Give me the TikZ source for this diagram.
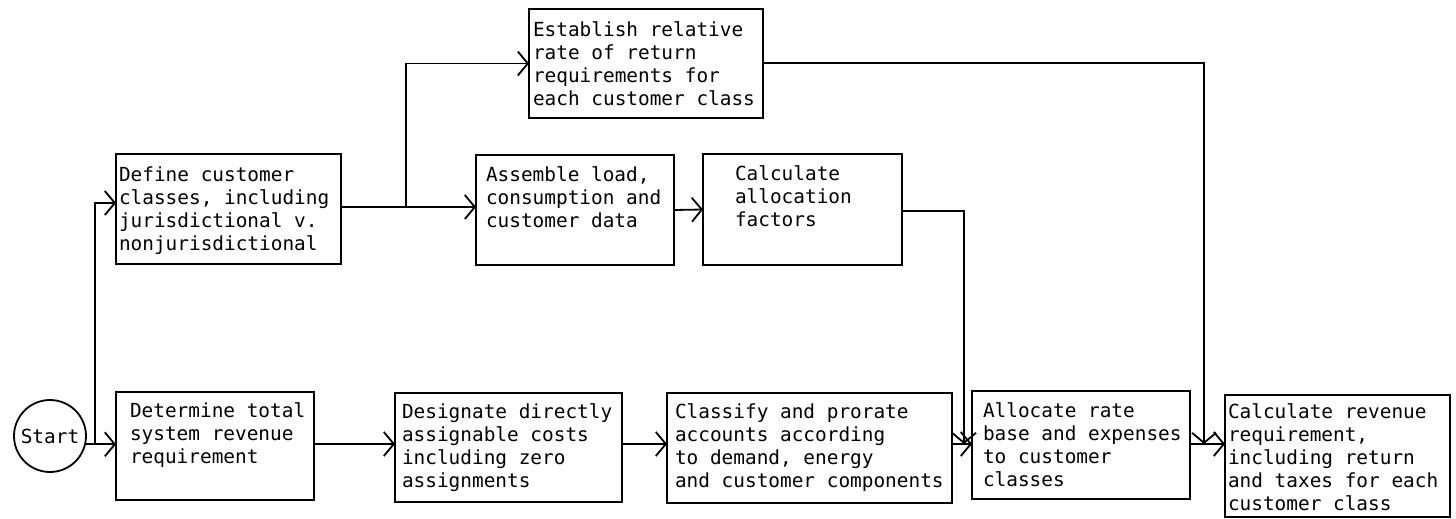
\documentclass[tikz,border=0pt]{standalone}
\usepackage{fontspec}
\newfontfamily\typ{DejaVu Sans Mono}
\usetikzlibrary{arrows.meta}

% #1 box width, #2 box height, #3 left pad, #4 top pad (all in px), #5 text
\newcommand\steptext[5]{%
  \parbox[t][\dimexpr#2pt/2\relax][t]{\dimexpr#1pt/2\relax}{%
    \typ\fontsize{9.7pt}{11.5pt}\selectfont
    \raggedright\leftskip=\dimexpr#3pt/2\relax
    \vspace*{\dimexpr#4pt/2\relax}#5}}

\begin{document}
\begin{tikzpicture}[x=0.5pt,y=-0.5pt,line width=0.9pt,
  stepbox/.style={draw,rectangle,anchor=north west,inner sep=0pt,outer sep=0pt},
  startnode/.style={draw,circle,minimum size=36pt,inner sep=0pt,
    font=\typ\fontsize{9.7pt}{11.5pt}\selectfont},
  arr/.style={-{Straight Barb[length=5pt,width=12pt,line width=0.9pt]}}]
\useasboundingbox (0,0) rectangle (1456,519);

% process steps
\node[startnode] (start) at (50,436) {Start};
\node[stepbox] (def) at (116,154) {\steptext{225}{110}{3}{13}{Define customer\\classes, including\\jurisdictional v.\\nonjurisdictional}};
\node[stepbox] (est) at (529,9) {\steptext{234}{109}{4}{13}{Establish relative\\rate of return\\requirements for\\each customer class}};
\node[stepbox] (asm) at (476,155) {\steptext{198}{110}{10}{12}{Assemble load,\\consumption and\\customer data}};
\node[stepbox] (cal) at (703,154) {\steptext{199}{111}{32}{12}{Calculate\\allocation\\factors}};
\node[stepbox] (det) at (116,392) {\steptext{198}{108}{14}{11}{Determine total\\system revenue\\requirement}};
\node[stepbox] (des) at (395,393) {\steptext{227}{109}{7}{11}{Designate directly\\assignable costs\\including zero\\assignments}};
\node[stepbox] (cls) at (667,393) {\steptext{285}{110}{8}{11}{Classify and prorate\\accounts according\\to demand, energy\\and customer components}};
\node[stepbox] (alo) at (972,391) {\steptext{218}{108}{11}{12}{Allocate rate\\base and expenses\\to customer\\classes}};
\node[stepbox] (rev) at (1225,395) {\steptext{225}{122}{3}{9}{Calculate revenue\\requirement,\\including return\\and taxes for each\\customer class}};

% routing levels
\coordinate (row) at (0,444);
\coordinate (mid) at (0,207);
\coordinate (fork) at (95,0);
\coordinate (up) at (406,0);
\coordinate (dropA) at (964,211);
\coordinate (dropB) at (1204,63);

% connectors
\draw[arr] (start.-13) -- (start.-13 -| det.west);
\draw[arr] (fork |- start.-13) |- ([yshift=3pt]def.west);
\draw[arr] (def.east |- mid) -- (asm.west |- mid);
\draw[arr] (up |- mid) |- (est.west);
\draw[arr] (asm.east) -- (cal.west);
\draw[arr] (cal.east |- dropA) -| (dropA |- row);
\draw[arr] (est.east |- dropB) -| (dropB |- row);
\draw[arr] (det.east |- row) -- (des.west |- row);
\draw[arr] (des.east |- row) -- (cls.west |- row);
\draw[arr] (cls.east |- row) -- (alo.west |- row);
\draw[arr] (alo.east |- row) -- (rev.west |- row);
\end{tikzpicture}
\end{document}
